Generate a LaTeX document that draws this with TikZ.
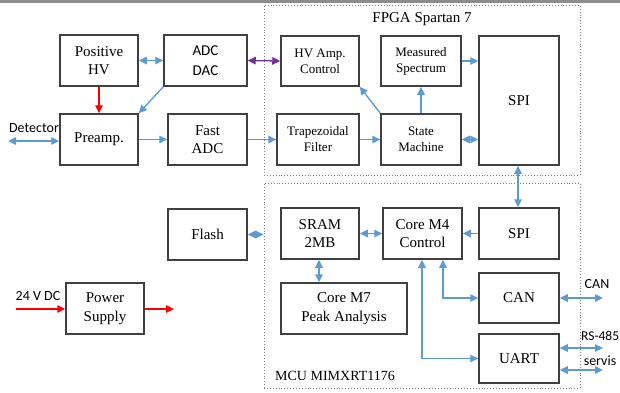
\documentclass[tikz,border=0pt]{standalone}
\usepackage{fontspec}
\setmainfont{Liberation Serif}
\newfontfamily\carlito{Carlito}
\usetikzlibrary{arrows.meta}
\definecolor{bl}{HTML}{5B9BD5}
\definecolor{pu}{HTML}{7030A0}
\definecolor{rd}{HTML}{FF0000}
\definecolor{bd}{HTML}{404040}
\tikzset{
  box/.style={draw=bd, line width=1.5pt, fill=white, align=center, inner sep=1pt,
    font=\fontsize{15}{18.5}\selectfont},
  sbox/.style={box, font=\fontsize{13}{16}\selectfont},
  frame/.style={draw=gray, dotted, line width=0.9pt},
  tip/.tip={Triangle[length=8pt,width=7.5pt]},
  conn/.style={bl, line width=1.3pt, -tip},
  bconn/.style={bl, line width=1.3pt, tip-tip},
  rconn/.style={rd, line width=1.3pt, -tip},
  pconn/.style={pu, line width=1.3pt, tip-tip},
  extlabel/.style={font=\carlito\fontsize{14}{16}\selectfont, inner sep=0pt}
}
\begin{document}
\begin{tikzpicture}[x=1pt,y=-1pt]
\useasboundingbox (0,0) rectangle (620,392);
\fill[gray!90] (0,0) rectangle (620,3);
% frames
\node[frame, minimum width=316pt, minimum height=170pt, inner sep=0pt] (fpga) at (422,90) {};
\node[frame, minimum width=316pt, minimum height=205pt, inner sep=0pt] (mcu) at (422,285.5) {};
\node[font=\fontsize{15}{18}\selectfont] (fpgat) at (422,19) {FPGA Spartan 7};
\node[font=\fontsize{14}{17}\selectfont, anchor=west, inner sep=0pt] (mcut) at (275,376) {MCU MIMXRT1176};
% boxes left
\node[box, minimum width=78pt, minimum height=51pt] (phv) at (99,60.5) {Positive\\HV};
\node[box, minimum width=83pt, minimum height=51pt, font=\carlito\fontsize{15}{20}\selectfont] (adc) at (205.5,60.5) {ADC\\DAC};
\node[box, minimum width=78pt, minimum height=51pt] (pre) at (99,139.5) {Preamp.};
\node[box, minimum width=79pt, minimum height=51pt] (fadc) at (207.5,139.5) {Fast\\ADC};
\node[box, minimum width=79pt, minimum height=51pt] (flash) at (207.5,234.5) {Flash};
\node[box, minimum width=78pt, minimum height=51pt] (ps) at (105,308.5) {Power\\Supply};
% FPGA
\node[sbox, minimum width=78pt, minimum height=50pt] (hva) at (320,61) {HV Amp.\\Control};
\node[sbox, minimum width=80pt, minimum height=50pt] (msp) at (421,61) {Measured\\Spectrum};
\node[box, minimum width=80pt, minimum height=129pt] (spif) at (519,100.5) {SPI};
\node[sbox, minimum width=82pt, minimum height=51pt] (trap) at (318,139.5) {Trapezoidal\\Filter};
\node[sbox, minimum width=80pt, minimum height=51pt] (sm) at (421,139.5) {State\\Machine};
% MCU
\node[box, minimum width=78pt, minimum height=51pt] (sram) at (320,233.5) {SRAM\\2MB};
\node[box, minimum width=79pt, minimum height=51pt] (m4) at (422.5,233.5) {Core M4\\Control};
\node[box, minimum width=80pt, minimum height=51pt] (spim) at (519,233.5) {SPI};
\node[box, minimum width=126pt, minimum height=51pt] (m7) at (344,308.5) {Core M7\\Peak Analysis};
\node[box, minimum width=80pt, minimum height=50pt] (can) at (519,298) {CAN};
\node[box, minimum width=80pt, minimum height=49pt] (uart) at (519,358.5) {UART};
% external coords
\coordinate (det) at (8,141);
\coordinate (pin) at (16,309);
\coordinate (pout) at (174,309);
\coordinate (canout) at (603,298);
\coordinate (rsout) at (603,348);
\coordinate (svout) at (603,370);
% labels
\node[extlabel] (detl) at (34,128) {Detector};
\node[extlabel] (dcl) at (38,296) {24 V DC};
\node[extlabel] (canl) at (597,284) {CAN};
\node[extlabel, anchor=west, font=\carlito\fontsize{13.5}{16}\selectfont] (rsl) at (581,336) {RS-485};
\node[extlabel] (svl) at (600,361) {servis};
% connectors
\draw[bconn] (phv.east) -- (adc.west);
\draw[rconn] (phv.south) -- (pre.north);
\draw[conn] (adc.south west) -- (pre.north east);
\draw[bconn] (det) -- (pre.west |- det);
\draw[conn] (pre.east) -- (fadc.west);
\draw[conn] (fadc.east) -- (trap.west);
\draw[pconn] (adc.east) -- (hva.west);
\draw[conn] (trap.east) -- (sm.west);
\draw[conn] (sm.north west) -- (hva.south east);
\draw[conn] (sm.north) -- (msp.south);
\draw[conn] (msp.east) -- (spif.west |- msp.east);
\draw[bconn] (sm.east) -- (spif.west |- sm.east);
\draw[bconn] ([xshift=-1pt]spif.south) -- ([xshift=-1pt]spim.north);
\draw[conn] (spim.west) -- (m4.east);
\draw[bconn] (sram.east) -- (m4.west);
\draw[bconn] ([xshift=-1pt]sram.south) -- ([xshift=-1pt]sram.south |- m7.north);
\draw[bconn] ([xshift=20.5pt]m4.south) |- (can.west);
\draw[bconn] ([xshift=-0.5pt]m4.south) |- (uart.west);
\draw[bconn] (flash.east) -- (mcu.west |- flash.east);
\draw[bconn] (can.east) -- (canout);
\draw[bconn] (uart.east |- rsout) -- (rsout);
\draw[bconn] (uart.east |- svout) -- (svout);
\draw[rconn] (pin) -- (ps.west |- pin);
\draw[rconn] (ps.east |- pout) -- (pout);
\end{tikzpicture}
\end{document}
